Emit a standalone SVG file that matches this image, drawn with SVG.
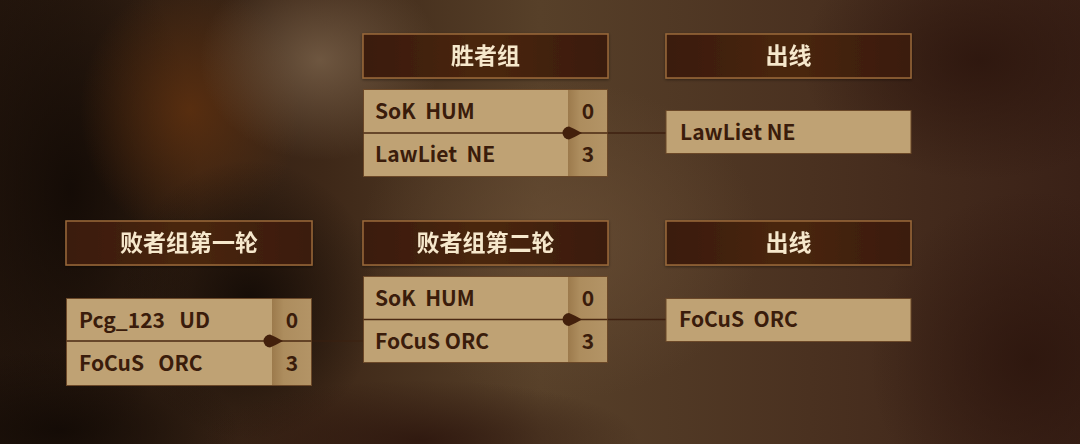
<svg xmlns="http://www.w3.org/2000/svg" width="1080" height="444" viewBox="0 0 1080 444">
<defs>
  <linearGradient id="bg" x1="0" y1="0" x2="1" y2="0">
    <stop offset="0" stop-color="#24160d"/>
    <stop offset="0.3" stop-color="#3e2818"/>
    <stop offset="0.5" stop-color="#574029"/>
    <stop offset="0.75" stop-color="#4a3120"/>
    <stop offset="1" stop-color="#3a2117"/>
  </linearGradient>
  <radialGradient id="rDark"><stop offset="0" stop-color="#120a05" stop-opacity="0.9"/><stop offset="1" stop-color="#120a05" stop-opacity="0"/></radialGradient>
  <radialGradient id="rOrange"><stop offset="0" stop-color="#5e300f" stop-opacity="0.85"/><stop offset="1" stop-color="#5e300f" stop-opacity="0"/></radialGradient>
  <radialGradient id="rLight"><stop offset="0" stop-color="#7a624a" stop-opacity="0.8"/><stop offset="1" stop-color="#7a624a" stop-opacity="0"/></radialGradient>
  <radialGradient id="rMid"><stop offset="0" stop-color="#6a4f36" stop-opacity="0.7"/><stop offset="1" stop-color="#6a4f36" stop-opacity="0"/></radialGradient>
  <radialGradient id="rRed"><stop offset="0" stop-color="#2c150d" stop-opacity="0.85"/><stop offset="1" stop-color="#2c150d" stop-opacity="0"/></radialGradient>
  <linearGradient id="hdr" x1="0" y1="0" x2="1" y2="0">
    <stop offset="0" stop-color="#3a1a08"/>
    <stop offset="0.5" stop-color="#4a2711"/>
    <stop offset="1" stop-color="#3a1a08"/>
  </linearGradient>
  <linearGradient id="score" x1="0" y1="0" x2="1" y2="0">
    <stop offset="0" stop-color="#9c7a4c"/>
    <stop offset="0.3" stop-color="#ad8d5e"/>
    <stop offset="1" stop-color="#b39466"/>
  </linearGradient>
  <filter id="shadow" x="-10%" y="-20%" width="120%" height="140%">
    <feDropShadow dx="0" dy="1" stdDeviation="1.5" flood-color="#000" flood-opacity="0.45"/>
  </filter>
</defs>
<style>
  .hdr { fill: url(#hdr); stroke: #9b6a3a; stroke-width: 1.5; }
  .hdrtxt { font-family: "Noto Sans CJK SC", "Noto Sans", sans-serif; font-weight: 700; font-size: 23px; fill: #f6e8cc; text-anchor: middle; }
  .box { fill: #bfa274; stroke: #6b4828; stroke-width: 1; }
  .score { fill: url(#score); }
  .div { stroke: #4a2812; stroke-width: 1.6; }
  .ptxt { font-family: "Noto Sans CJK SC", "Noto Sans", sans-serif; font-weight: 700; font-size: 21px; fill: #3a1c0b; white-space: pre; }
  .stxt { font-family: "Noto Sans CJK SC", "Noto Sans", sans-serif; font-weight: 700; font-size: 21px; fill: #3a1c0b; text-anchor: middle; }
  .conn { stroke: #3e2010; stroke-width: 1.6; fill: none; }
  .knob { fill: #43200c; }
</style>

<g id="background">
  <rect width="1080" height="444" fill="url(#bg)"/>
  <ellipse cx="70" cy="190" rx="130" ry="260" fill="url(#rDark)"/>
  <ellipse cx="190" cy="110" rx="110" ry="130" fill="url(#rOrange)"/>
  <ellipse cx="320" cy="60" rx="120" ry="100" fill="url(#rLight)"/>
  <ellipse cx="560" cy="240" rx="200" ry="160" fill="url(#rMid)"/>
  <ellipse cx="250" cy="300" rx="130" ry="140" fill="url(#rDark)"/>
  <ellipse cx="1030" cy="360" rx="160" ry="170" fill="url(#rRed)"/>
  <ellipse cx="980" cy="60" rx="180" ry="120" fill="url(#rRed)"/>
  <ellipse cx="420" cy="440" rx="220" ry="60" fill="url(#rRed)"/>
  <ellipse cx="60" cy="430" rx="180" ry="80" fill="url(#rDark)"/>
</g>

<g id="connectors">
  <line class="conn" x1="578" y1="133" x2="666" y2="133"/>
  <line class="conn" x1="578" y1="319.5" x2="666" y2="319.5"/>
  <line class="conn" x1="312" y1="341" x2="363" y2="341" stroke="#5a2c14" stroke-opacity="0.55"/>
</g>

<g id="header-winners" filter="url(#shadow)">
  <rect class="hdr" x="363" y="34" width="245" height="44"/>
  <text class="hdrtxt" x="485.5" y="64">胜者组</text>
</g>
<g id="header-out-1" filter="url(#shadow)">
  <rect class="hdr" x="666" y="34" width="245" height="44"/>
  <text class="hdrtxt" x="788.5" y="64">出线</text>
</g>
<g id="header-losers-1" filter="url(#shadow)">
  <rect class="hdr" x="66" y="221" width="246" height="44"/>
  <text class="hdrtxt" x="189" y="251">败者组第一轮</text>
</g>
<g id="header-losers-2" filter="url(#shadow)">
  <rect class="hdr" x="363" y="221" width="245" height="44"/>
  <text class="hdrtxt" x="485.5" y="251">败者组第二轮</text>
</g>
<g id="header-out-2" filter="url(#shadow)">
  <rect class="hdr" x="666" y="221" width="245" height="44"/>
  <text class="hdrtxt" x="788.5" y="251">出线</text>
</g>

<g id="match-winners">
  <rect class="box" x="363.5" y="89.5" width="244" height="87"/>
  <rect class="score" x="568" y="90" width="39" height="86"/>
  <line class="div" x1="363.5" y1="133" x2="607.5" y2="133"/>
  <path class="knob" d="M569,126.5 A6.5,6.5 0 1 0 569,139.5 Q575,137 582,133 Q575,129 569,126.5 Z"/>
  <text class="ptxt" x="375" y="119">SoK  HUM</text>
  <text class="ptxt" x="375" y="162">LawLiet  NE</text>
  <text class="stxt" x="588" y="119">0</text>
  <text class="stxt" x="588" y="162">3</text>
</g>

<g id="out-winners">
  <rect class="box" x="666" y="110.5" width="245" height="43"/>
  <text class="ptxt" x="680" y="140">LawLiet NE</text>
</g>

<g id="match-losers-1">
  <rect class="box" x="66.5" y="298.5" width="245" height="87"/>
  <rect class="score" x="272" y="299" width="39" height="86"/>
  <line class="div" x1="66.5" y1="341" x2="311.5" y2="341"/>
  <path class="knob" d="M270,334.5 A6.5,6.5 0 1 0 270,347.5 Q276,345 283,341 Q276,337 270,334.5 Z"/>
  <text class="ptxt" x="79" y="328">Pcg_123   UD</text>
  <text class="ptxt" x="79" y="371">FoCuS   ORC</text>
  <text class="stxt" x="292" y="328">0</text>
  <text class="stxt" x="292" y="371">3</text>
</g>

<g id="match-losers-2">
  <rect class="box" x="363.5" y="276.5" width="244" height="86"/>
  <rect class="score" x="568" y="277" width="39" height="85"/>
  <line class="div" x1="363.5" y1="319.5" x2="607.5" y2="319.5"/>
  <path class="knob" d="M569,313 A6.5,6.5 0 1 0 569,326 Q575,323.5 582,319.5 Q575,315.5 569,313 Z"/>
  <text class="ptxt" x="375" y="306">SoK  HUM</text>
  <text class="ptxt" x="375" y="349">FoCuS ORC</text>
  <text class="stxt" x="588" y="306">0</text>
  <text class="stxt" x="588" y="349">3</text>
</g>

<g id="out-losers">
  <rect class="box" x="666" y="298.5" width="245" height="43"/>
  <text class="ptxt" x="679" y="327">FoCuS  ORC</text>
</g>
</svg>
